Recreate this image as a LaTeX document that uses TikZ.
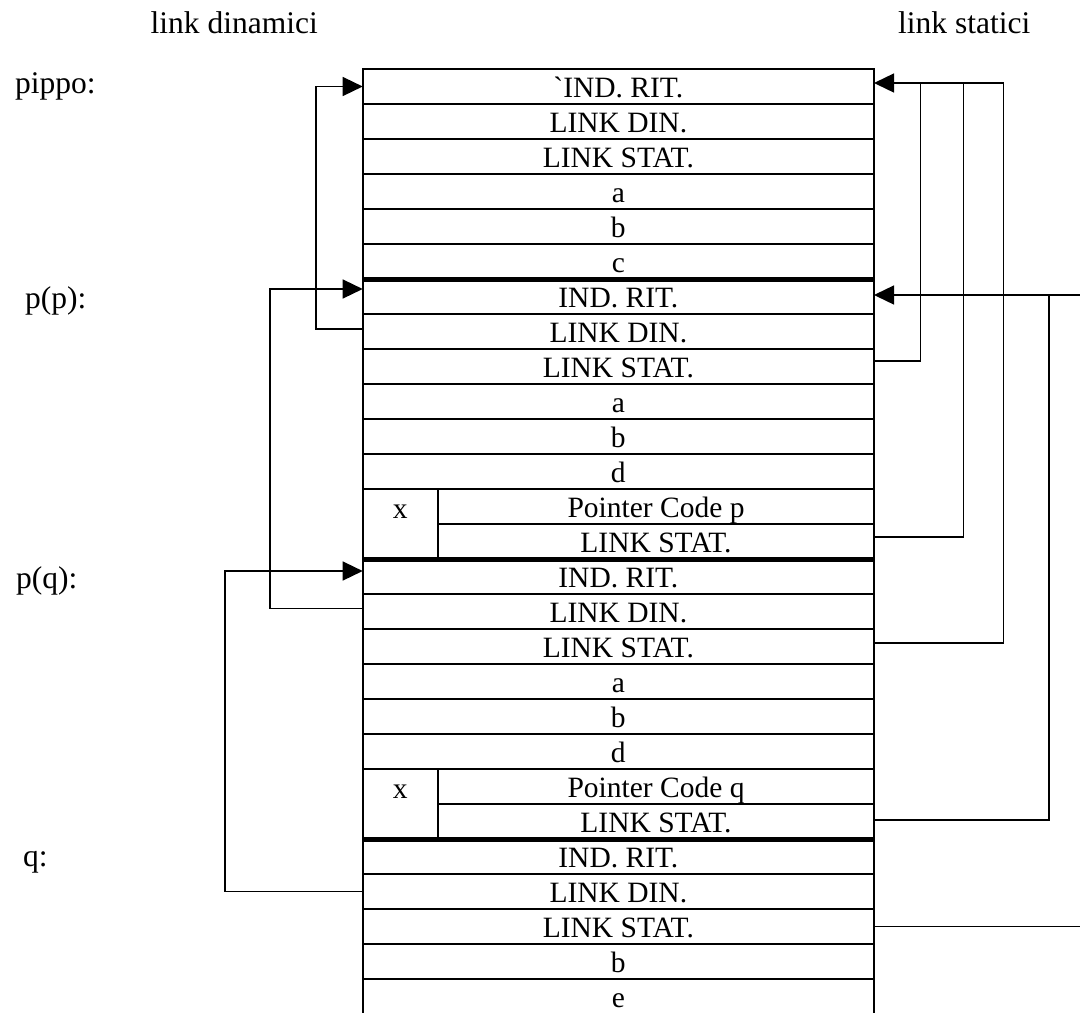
\documentclass[tikz,border=0pt]{standalone}
\usepackage{fontspec}
\setmainfont{Liberation Serif}
\usetikzlibrary{arrows.meta}
\begin{document}
\begin{tikzpicture}[x=1pt,y=-1pt,
  cell/.style={draw, line width=1.8pt, minimum width=511.3pt, minimum height=35pt,
    inner sep=0pt, outer sep=0pt, text height=22pt, text depth=0pt,
    font=\fontsize{29.5}{35}\selectfont, anchor=north west},
  subcell/.style={cell, minimum width=436pt},
  xcell/.style={cell, minimum width=75.3pt, minimum height=70pt, text height=8pt, text depth=20pt},
  lastcell/.style={cell, minimum height=40pt, text height=17pt},
  lbl/.style={anchor=base west, inner sep=0pt, font=\fontsize{31.5}{37}\selectfont},
  conn/.style={line width=1.4pt},
  arr/.style={conn, -{Triangle[length=20pt,width=19pt]}},
  sepline/.style={line width=5pt}]
\useasboundingbox (0,0) rectangle (1080,1013);
\clip (0,0) rectangle (1080,1013);

% labels
\node[lbl] (t1) at (150.5,33) {link dinamici};
\node[lbl] (t2) at (898,33) {link statici};
\node[lbl] (l1) at (15,93) {pippo:};
\node[lbl] (l2) at (25,308) {p(p):};
\node[lbl] (l3) at (16,588) {p(q):};
\node[lbl] (l4) at (23,866) {q:};

% pippo
\node[cell] (pi1) at (362.7,69) {\XeTeXglyph\XeTeXcharglyph"60 IND. RIT.};
\node[cell] (pi2) at (362.7,104) {LINK DIN.};
\node[cell] (pi3) at (362.7,139) {LINK STAT.};
\node[cell] (pi4) at (362.7,174) {a};
\node[cell] (pi5) at (362.7,209) {b};
\node[cell] (pi6) at (362.7,244) {c};

% p(p)
\node[cell] (pp1) at (362.7,279) {IND. RIT.};
\node[cell] (pp2) at (362.7,314) {LINK DIN.};
\node[cell] (pp3) at (362.7,349) {LINK STAT.};
\node[cell] (pp4) at (362.7,384) {a};
\node[cell] (pp5) at (362.7,419) {b};
\node[cell] (pp6) at (362.7,454) {d};
\node[xcell] (ppx) at (362.7,489) {x};
\node[subcell] (ppc) at (438,489) {Pointer Code p};
\node[subcell] (pps) at (438,524) {LINK STAT.};

% p(q)
\node[cell] (pq1) at (362.7,559) {IND. RIT.};
\node[cell] (pq2) at (362.7,594) {LINK DIN.};
\node[cell] (pq3) at (362.7,629) {LINK STAT.};
\node[cell] (pq4) at (362.7,664) {a};
\node[cell] (pq5) at (362.7,699) {b};
\node[cell] (pq6) at (362.7,734) {d};
\node[xcell] (pqx) at (362.7,769) {x};
\node[subcell] (pqc) at (438,769) {Pointer Code q};
\node[subcell] (pqs) at (438,804) {LINK STAT.};

% q
\node[cell] (q1) at (362.7,839) {IND. RIT.};
\node[cell] (q2) at (362.7,874) {LINK DIN.};
\node[cell] (q3) at (362.7,909) {LINK STAT.};
\node[cell] (q4) at (362.7,944) {b};
\node[lastcell] (q5) at (362.7,979) {e};

% thick separators
\draw[sepline] (pi6.south west) -- (pi6.south east);
\draw[sepline] (ppx.south west) -- (pps.south east);
\draw[sepline] (pqx.south west) -- (pqs.south east);

% dynamic links (left)
\coordinate (dA) at (316,0);
\coordinate (dB) at (270,0);
\coordinate (dC) at (225,0);
\coordinate (ppldW) at ([yshift=2.5pt]pp2.west);
\coordinate (piirW) at (pi1.west);
\coordinate (pqldW) at ([yshift=3pt]pq2.west);
\coordinate (ppirW) at ([yshift=7.5pt]pp1.west);
\coordinate (qldW) at (q2.west);
\coordinate (pqirW) at ([yshift=5.5pt]pq1.west);
\draw[arr] (ppldW) -- (ppldW -| dA) -- (piirW -| dA) -- (piirW);
\draw[arr] (pqldW) -- (pqldW -| dB) -- (ppirW -| dB) -- (ppirW);
\draw[arr] (qldW) -- (qldW -| dC) -- (pqirW -| dC) -- (pqirW);

% static links (right)
\coordinate (s1) at (920.7,0);
\coordinate (s2) at (963.3,0);
\coordinate (s3) at (1003.3,0);
\coordinate (s4) at (1049,0);
\coordinate (edge) at (1080,0);
\coordinate (piirE) at ([yshift=3.5pt]pi1.east);
\coordinate (pplsE) at ([yshift=5.5pt]pp3.east);
\coordinate (ppsE) at ([yshift=4.5pt]pps.east);
\coordinate (pqlsE) at ([yshift=3.5pt]pq3.east);
\coordinate (pqsE) at ([yshift=1.5pt]pqs.east);
\coordinate (ppirE) at ([yshift=1.5pt]pp1.east);
\coordinate (qlsE) at (q3.east);
\draw[conn] (pplsE) -- (pplsE -| s1) -- (piirE -| s1);
\draw[conn] (ppsE) -- (ppsE -| s2) -- (piirE -| s2);
\draw[arr] (pqlsE) -- (pqlsE -| s3) -- (piirE -| s3) -- (piirE);
\draw[arr] (ppirE -| edge) -- (ppirE);
\draw[conn] (pqsE) -- (pqsE -| s4) -- (ppirE -| s4);
\draw[conn] (qlsE) -- (qlsE -| edge);
\end{tikzpicture}
\end{document}
